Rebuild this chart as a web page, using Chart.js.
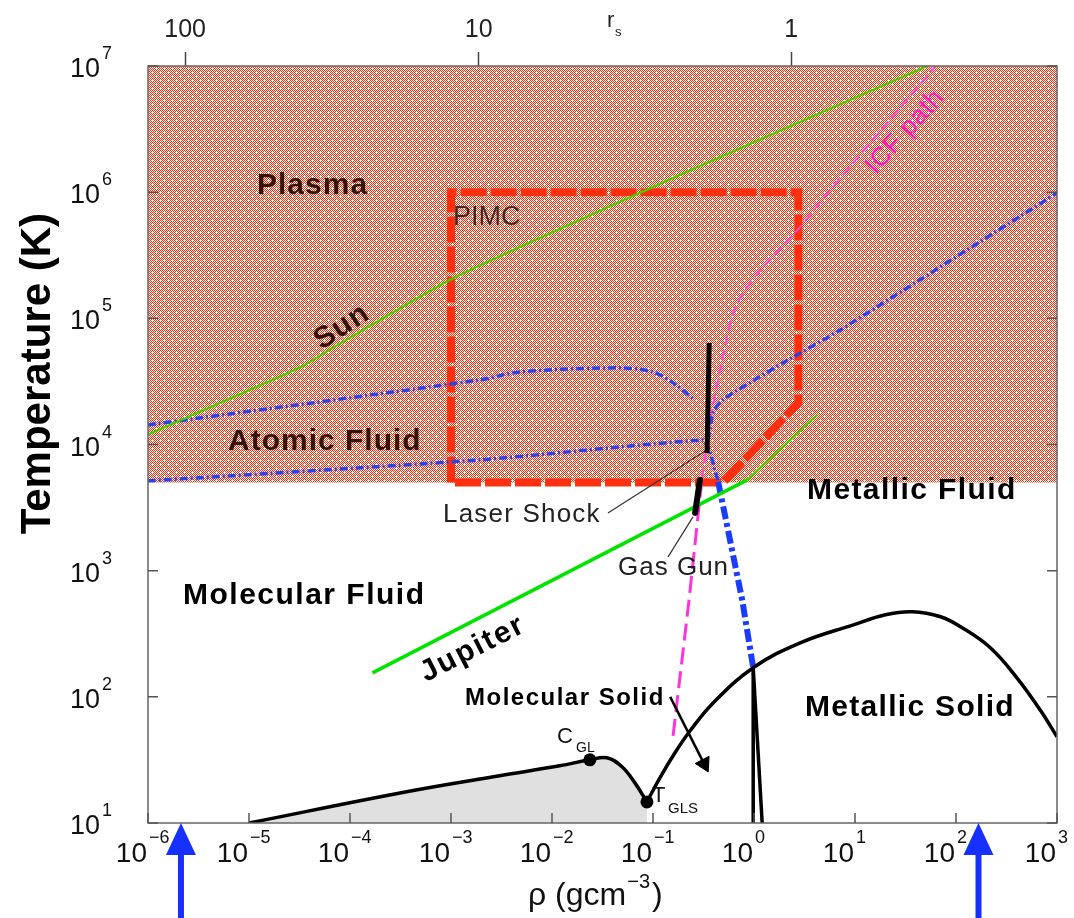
<!DOCTYPE html>
<html><head><meta charset="utf-8">
<script src="https://cdn.jsdelivr.net/npm/chart.js@4.4.1/dist/chart.umd.min.js"></script>
<style>html,body{margin:0;padding:0;background:#fff;}#wrap{width:1074px;height:918px;}</style>
</head><body><div id="wrap"><canvas id="c" width="1074" height="918"></canvas></div>
<script>
// ---------- data (density rho in g/cm^3, temperature T in K) ----------
const rhoTicks = [1e-6,1e-5,1e-4,1e-3,1e-2,1e-1,1,10,100,1000];
const tempTicks = [10,100,1e3,1e4,1e5,1e6,1e7];
const rsTickRho = [2.33e-6, 1.88e-3, 2.34];
const rsTickLabels = ['100','10','1'];
const arrowRho = [2.12e-6, 167];

const plasmaBound = [[1e-6,5000],[1e3,5000]];
const sunLine = [[1e-6,12000],[3.15e-5,40500],[6.25e-5,56200],[9.7e-4,2.01e5],[7.57e-3,4.34e5],[0.217,1.45e6],[52.2,1e7]];
const jupiterLine = [[1.67e-4,155],[0.857,5240]];
const jupiterHot = [[0.857,5240],[4.24,17200]];
const atomicLower = [[1e-6,5150],[1.92e-3,7550],[0.313,10860],[0.352,9570],[0.442,5060]];
const metalBoundary = [[0.442,5060],[0.764,587],[0.982,170]];
const atomicUpper = [[1e-6,14300],[1.92e-3,32500],[4.8e-3,37600],[0.0471,40500],[0.1,37600],[0.158,30800],[0.261,22500]];
const ionization = [[0.352,10860],[0.394,17800],[0.484,22500],[1.95,44400],[7.16,80900],[1000,9.86e5]];
const pimcBox = [[1e-3,5000],[1e-3,1e6],[2.75,1e6],[2.75,21400],[0.494,5000],[1e-3,5000]];
const icfLow = [[0.158,49.1],[0.2275,587],[0.306,5430]];
const icfHigh = [[0.306,5430],[0.385,18800],[0.462,39000],[0.622,1.10e5],[0.818,1.68e5],[1.29,2.65e5],[2.69,5.0e5],[5.70,1.04e6],[62.8,1e7]];
const laserShock = [[0.36,63800],[0.343,8570]];
const gasGun = [[0.292,5250],[0.261,2870]];
const laserLeader = [[0.0358,2870],[0.328,8890]];
const gasLeader = [[0.141,1285],[0.249,2670]];
const coexistence = [[1e-5,10],[3.63e-4,17.7],[3.03e-3,23.7],[0.0119,28.4],[0.0237,31.7],[0.035,32.9],[0.0493,27.9],[0.0662,20.8],[0.0871,14.7]];
const melting = [[0.0871,14.7],[0.117,22.8],[0.165,36.0],[0.233,53.8],[0.394,89.5],[0.982,170],[2.87,268],[9.64,372],[20.0,447],[37.1,472],[70.3,431],[111,359],[220,244],[408,139],[690,77.5],[1000,48.2]];
const solidBoundaryA = [[0.982,170],[0.982,10]];
const solidBoundaryB = [[0.982,170],[1.205,10]];
const criticalPoints = [[0.0237,31.7],[0.0871,14.7]];
const solidArrow = [[0.148,100],[0.321,29.4]];

// ---------- styling ----------
const FONT = '"Liberation Sans", Arial, Helvetica, sans-serif';
const pts = a => a.map(([x,y]) => ({x, y}));

function makePattern() {
  const pc = document.createElement('canvas'); pc.width = 8; pc.height = 8;
  const g = pc.getContext('2d');
  g.fillStyle = '#fff'; g.fillRect(0,0,8,8);
  g.fillStyle = '#ff2a04';
  for (let y = 0; y < 8; y++) for (let x = 0; x < 8; x++) if ((x + y) % 2 === 0) g.fillRect(x,y,1,1);
  g.fillStyle = '#fff'; g.fillRect(0,0,1,1); g.fillRect(4,4,1,1);
  return document.getElementById('c').getContext('2d').createPattern(pc, 'repeat');
}

function ds(data, o) {
  return Object.assign({data: pts(data), showLine: true, pointRadius: 0, borderWidth: 2, fill: false,
    tension: 0, borderCapStyle: 'butt', borderJoinStyle: 'round', xAxisID: 'x', yAxisID: 'y', order: 10}, o);
}

const datasets = [
  ds(plasmaBound, {fill: 'end', backgroundColor: makePattern(), borderWidth: 0, borderColor: 'rgba(0,0,0,0)', order: 100}),
  ds(coexistence, {fill: 'start', backgroundColor: '#e0e0e0', borderColor: '#000', borderWidth: 3.5, tension: 0.4, order: 5}),
  ds(sunLine, {borderColor: '#36d600', borderWidth: 2.2, tension: 0.2}),
  ds(jupiterHot, {borderColor: '#36d600', borderWidth: 2.2}),
  ds(jupiterLine, {borderColor: '#00e400', borderWidth: 3.5}),
  ds(pimcBox, {borderColor: '#ff3010', borderWidth: 8, borderDash: [26,4], borderJoinStyle: 'miter', order: 20}),
  ds(atomicLower, {borderColor: '#2545ee', borderWidth: 3.5, borderDash: [8,3,2,3], tension: 0.2}),
  ds(atomicUpper, {borderColor: '#2545ee', borderWidth: 3.5, borderDash: [8,3,2,3], tension: 0.3}),
  ds(ionization, {borderColor: '#2545ee', borderWidth: 3.5, borderDash: [8,3,2,3], tension: 0.2}),
  ds(metalBoundary, {borderColor: '#1a3cff', borderWidth: 6, borderDash: [13,4,4,4]}),
  ds(icfHigh, {borderColor: '#ff45dc', borderWidth: 2, borderDash: [10,5], tension: 0.3}),
  ds(icfLow, {borderColor: '#ff33dd', borderWidth: 3, borderDash: [17,7]}),
  ds(laserShock, {borderColor: '#000', borderWidth: 5, order: 4}),
  ds(gasGun, {borderColor: '#000', borderWidth: 6, borderCapStyle: 'round', order: 4}),
  ds(laserLeader, {borderColor: '#333', borderWidth: 1.2, order: 4}),
  ds(gasLeader, {borderColor: '#333', borderWidth: 1.2, order: 4}),
  ds(melting, {borderColor: '#000', borderWidth: 3.5, tension: 0.4, order: 4}),
  ds(solidBoundaryA, {borderColor: '#000', borderWidth: 3.5, order: 4}),
  ds(solidBoundaryB, {borderColor: '#000', borderWidth: 3.5, order: 4}),
  ds(solidArrow, {borderColor: '#000', borderWidth: 2.5, order: 3,
    pointRadius: [0, 9], pointStyle: 'triangle', pointRotation: [0, 153],
    pointBackgroundColor: '#000', pointBorderColor: '#000', pointBorderWidth: 1}),
  ds(criticalPoints, {showLine: false, pointRadius: 6.5, pointBackgroundColor: '#000', pointBorderColor: '#000', pointBorderWidth: 0, order: 2})
];

function txt(ctx, s, x, y, font, color, o = {}) {
  ctx.save();
  ctx.font = font; ctx.fillStyle = color;
  ctx.textAlign = o.align || 'left'; ctx.textBaseline = o.base || 'alphabetic';
  if ('letterSpacing' in ctx) ctx.letterSpacing = (o.ls || 0) + 'px';
  ctx.translate(x, y);
  if (o.rot) ctx.rotate(o.rot * Math.PI / 180);
  ctx.fillText(s, 0, 0);
  ctx.restore();
}
const expText = v => { const e = Math.round(Math.log10(v)); return e < 0 ? '\u2212' + (-e) : String(e); };

const decor = {
  id: 'decor',
  beforeDraw(chart) {
    const c = chart.ctx; c.save(); c.fillStyle = '#fff'; c.fillRect(0,0,chart.width,chart.height); c.restore();
  },
  afterDatasetsDraw(chart) {
    const c = chart.ctx, a = chart.chartArea, xs = chart.scales.x, ys = chart.scales.y;
    // frame
    c.save(); c.strokeStyle = '#666'; c.lineWidth = 1.5;
    c.strokeRect(a.left, a.top, a.right - a.left, a.bottom - a.top);
    // inner ticks
    c.strokeStyle = '#555'; c.lineWidth = 1.5; c.beginPath();
    tempTicks.forEach(v => { const py = ys.getPixelForValue(v);
      c.moveTo(a.left, py); c.lineTo(a.left + 10, py); c.moveTo(a.right, py); c.lineTo(a.right - 10, py); });
    rhoTicks.forEach(v => { const px = xs.getPixelForValue(v); c.moveTo(px, a.bottom); c.lineTo(px, a.bottom - 10); });
    c.stroke(); c.restore();

    // tick labels
    const F = s => s + 'px ' + FONT;
    tempTicks.forEach(v => { const py = ys.getPixelForValue(v);
      txt(c, '10', 100, py + 11, F(27), '#111', {align: 'right'});
      txt(c, expText(v), 102, py - 7, F(18), '#111'); });
    rhoTicks.forEach(v => { const px = xs.getPixelForValue(v);
      txt(c, '10', px - 1, 862, F(28), '#111', {align: 'right'});
      txt(c, expText(v), px + 1, 843, F(18), '#111'); });

    // axis titles
    txt(c, 'Temperature (K)', 50, 213, 'bold ' + F(42), '#000', {align: 'right', rot: -90});
    txt(c, '\u03c1 (gcm', 528, 905, F(32), '#111');
    c.save(); c.font = F(32); const w = c.measureText('\u03c1 (gcm').width; c.restore();
    txt(c, '\u22123', 528 + w + 1, 888, F(20), '#111');
    c.save(); c.font = F(20); const w2 = c.measureText('\u22123').width; c.restore();
    txt(c, ')', 528 + w + w2 + 3, 905, F(32), '#111');
    txt(c, 'r', 607, 27, F(22), '#222');
    txt(c, 's', 615, 36, F(13), '#222');

    // region labels
    const dark = 'rgba(25,5,0,0.9)';
    txt(c, 'Plasma', 257, 194, 'bold ' + F(30), dark, {ls: 1});
    txt(c, 'PIMC', 453, 225, F(27), '#3a2a2a');
    txt(c, 'Sun', 342, 327, 'bold ' + F(30), dark, {align: 'center', base: 'middle', rot: -33, ls: 1});
    txt(c, 'Atomic Fluid', 228, 450, 'bold ' + F(30), dark, {ls: 1});
    txt(c, 'Metallic Fluid', 807, 499, 'bold ' + F(30), '#000', {ls: 1.4});
    txt(c, 'Molecular Fluid', 183, 604, 'bold ' + F(30), '#000', {ls: 1.5});
    txt(c, 'Jupiter', 473, 649, 'bold ' + F(30), '#000', {align: 'center', base: 'middle', rot: -27, ls: 2});
    txt(c, 'Molecular Solid', 465, 705, 'bold ' + F(24), '#000', {ls: 1.5});
    txt(c, 'Metallic Solid', 805, 716, 'bold ' + F(30), '#000', {ls: 1.3});
    txt(c, 'Laser Shock', 443, 522, F(26), '#222', {ls: 1.2});
    txt(c, 'Gas Gun', 618, 575, F(26), '#222', {ls: 1});
    txt(c, 'C', 557, 743, F(22), '#111');
    txt(c, 'GL', 576, 752, F(14), '#111');
    txt(c, 'T', 652, 802, F(22), '#111');
    txt(c, 'GLS', 668, 813, F(15), '#111');
    txt(c, 'ICF path', 905, 132, F(26), '#ff18c0', {align: 'center', base: 'middle', rot: -48, ls: 0.5});

    // blue arrows under the axis
    c.save(); c.fillStyle = '#1530ff';
    arrowRho.forEach(v => { const px = xs.getPixelForValue(v);
      c.fillRect(px - 3, 850, 6, 70);
      c.beginPath(); c.moveTo(px, 823); c.lineTo(px - 15, 855); c.lineTo(px + 15, 855); c.closePath(); c.fill(); });
    c.restore();
  }
};

new Chart(document.getElementById('c'), {
  type: 'scatter',
  data: {datasets},
  options: {
    responsive: false, animation: false, events: [],
    layout: {padding: {left: 0, right: 17, top: 0, bottom: 0}},
    plugins: {legend: {display: false}, tooltip: {enabled: false}},
    scales: {
      x: {type: 'logarithmic', position: 'bottom', min: 1e-6, max: 1e3,
        afterBuildTicks: s => { s.ticks = rhoTicks.map(v => ({value: v})); },
        afterFit: s => { s.height = 95; },
        ticks: {display: false}, grid: {display: false}, border: {display: false}},
      xTop: {type: 'logarithmic', position: 'top', min: 1e-6, max: 1e3,
        afterBuildTicks: s => { s.ticks = rsTickRho.map(v => ({value: v})); },
        afterFit: s => { s.height = 66; },
        ticks: {autoSkip: false, maxRotation: 0, padding: 7, color: '#222', font: {family: FONT, size: 25},
          callback: (v, i) => rsTickLabels[i]},
        grid: {drawOnChartArea: false, drawTicks: true, tickLength: 14, tickColor: '#444', tickWidth: 1.5, color: '#444'},
        border: {display: false}},
      y: {type: 'logarithmic', position: 'left', min: 10, max: 1e7,
        afterBuildTicks: s => { s.ticks = tempTicks.map(v => ({value: v})); },
        afterFit: s => { s.width = 148; },
        ticks: {display: false}, grid: {display: false}, border: {display: false}}
    }
  },
  plugins: [decor]
});
</script></body></html>
